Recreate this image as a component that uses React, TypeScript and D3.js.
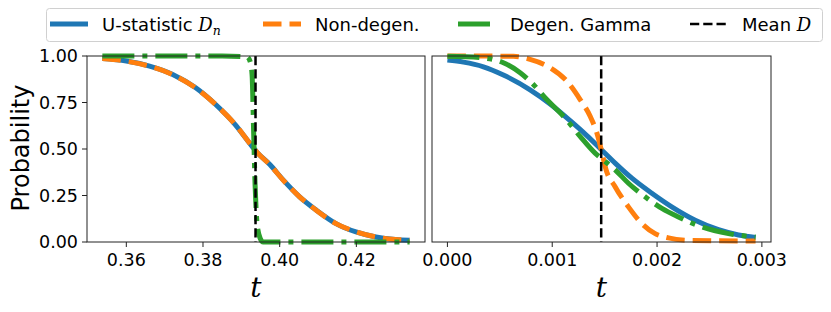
import { useRef, useEffect } from 'react'
import * as d3 from 'd3'

// left panel (t values ~0.354..0.434)
const leftT = [0.35375, 0.36, 0.36605, 0.3721, 0.3781, 0.3833, 0.3884, 0.3928, 0.3941, 0.3975, 0.4009, 0.4052, 0.4096, 0.4147, 0.4199, 0.4251, 0.4302, 0.4339]
const leftU = [0.986, 0.973, 0.946, 0.901, 0.829, 0.739, 0.631, 0.514, 0.482, 0.415, 0.334, 0.243, 0.171, 0.099, 0.054, 0.027, 0.013, 0.009]
const leftNonDegen = [0.986, 0.972, 0.945, 0.9, 0.828, 0.739, 0.632, 0.515, 0.482, 0.414, 0.333, 0.243, 0.17, 0.099, 0.055, 0.027, 0.014, 0.01]
const leftGammaT = [0.35375, 0.37, 0.385, 0.3915, 0.3923, 0.3928, 0.3932, 0.3936, 0.3941, 0.3949, 0.3957, 0.41, 0.4339]
const leftGamma = [1.0, 1.0, 1.0, 0.995, 0.97, 0.9, 0.6, 0.3, 0.1, 0.02, 0.0, 0.0, 0.0]
const leftMean = 0.3937

// right panel (t values 0..0.00294)
const rightT = [0.0, 0.000153, 0.000344, 0.000534, 0.000789, 0.00098, 0.001171, 0.00133, 0.001457, 0.0016, 0.00176, 0.00195, 0.00214, 0.002364, 0.002586, 0.002777, 0.00294]
const rightU = [0.978, 0.967, 0.942, 0.898, 0.818, 0.742, 0.652, 0.572, 0.503, 0.424, 0.343, 0.262, 0.189, 0.117, 0.066, 0.038, 0.024]
const rightNdT = [0.0, 0.0003, 0.00063, 0.000789, 0.00098, 0.001139, 0.001266, 0.001362, 0.001426, 0.001483, 0.001505, 0.0016, 0.001727, 0.001855, 0.001982, 0.002109, 0.0023, 0.00294]
const rightNonDegen = [1.0, 1.0, 0.998, 0.982, 0.937, 0.865, 0.766, 0.676, 0.586, 0.459, 0.405, 0.297, 0.189, 0.099, 0.045, 0.022, 0.009, 0.005]
const rightGT = [0.0, 0.000312, 0.000534, 0.000694, 0.00082, 0.000948, 0.001107, 0.001266, 0.001409, 0.001489, 0.0016, 0.001727, 0.001886, 0.002046, 0.002204, 0.002427, 0.002681, 0.00294]
const rightGamma = [0.998, 0.991, 0.964, 0.91, 0.847, 0.766, 0.676, 0.568, 0.478, 0.44, 0.388, 0.316, 0.243, 0.181, 0.135, 0.081, 0.045, 0.027]
const rightMean = 0.001467

const yTicks = [0, 0.25, 0.5, 0.75, 1.0]
const leftTicks = [0.36, 0.38, 0.4, 0.42]
const rightTicks = [0.0, 0.001, 0.002, 0.003]

const BLUE = '#1f77b4'
const ORANGE = '#ff7f0e'
const GREEN = '#2ca02c'
const FONT = 'DejaVu Sans, sans-serif'

const W = 831
const H = 312
const TOP = 56
const BOTTOM = 242

function pad(ext: [number, number]): [number, number] {
  const m = (ext[1] - ext[0]) * 0.05
  return [ext[0] - m, ext[1] + m]
}

export default function App() {
  const ref = useRef<SVGSVGElement>(null)

  useEffect(() => {
    if (!ref.current) return
    const svg = d3.select(ref.current)
    svg.selectAll('*').remove()

    const y = d3.scaleLinear().domain([0, 1]).range([BOTTOM, TOP])

    const panels = [
      {
        x0: 87, x1: 425,
        domain: pad(d3.extent(leftT) as [number, number]),
        ticks: leftTicks, fmt: d3.format('.2f'),
        series: [
          { t: leftT, v: leftU, color: BLUE, dash: null },
          { t: leftT, v: leftNonDegen, color: ORANGE, dash: '18.5,8' },
          { t: leftGammaT, v: leftGamma, color: GREEN, dash: '32,8,5,8' },
        ],
        mean: leftMean, yLabels: true,
      },
      {
        x0: 432, x1: 771,
        domain: pad(d3.extent(rightT) as [number, number]),
        ticks: rightTicks, fmt: d3.format('.3f'),
        series: [
          { t: rightT, v: rightU, color: BLUE, dash: null },
          { t: rightNdT, v: rightNonDegen, color: ORANGE, dash: '18.5,8' },
          { t: rightGT, v: rightGamma, color: GREEN, dash: '32,8,5,8' },
        ],
        mean: rightMean, yLabels: false,
      },
    ]

    panels.forEach((p) => {
      const x = d3.scaleLinear().domain(p.domain).range([p.x0, p.x1])
      const g = svg.append('g')

      p.series.forEach((s) => {
        const line = d3
          .line<number>()
          .x((_, i) => x(s.t[i]))
          .y((d) => y(d))
          .curve(d3.curveMonotoneX)
        g.append('path')
          .attr('d', line(s.v) as string)
          .attr('fill', 'none')
          .attr('stroke', s.color)
          .attr('stroke-width', 5)
          .attr('stroke-dasharray', s.dash)
      })

      g.append('line')
        .attr('x1', x(p.mean)).attr('x2', x(p.mean))
        .attr('y1', TOP).attr('y2', BOTTOM)
        .attr('stroke', 'black')
        .attr('stroke-width', 2.5)
        .attr('stroke-dasharray', '9.25,4')

      g.append('rect')
        .attr('x', p.x0).attr('y', TOP)
        .attr('width', p.x1 - p.x0).attr('height', BOTTOM - TOP)
        .attr('fill', 'none').attr('stroke', '#222').attr('stroke-width', 1)

      p.ticks.forEach((t) => {
        g.append('line')
          .attr('x1', x(t)).attr('x2', x(t))
          .attr('y1', BOTTOM).attr('y2', BOTTOM + 5)
          .attr('stroke', '#222')
        g.append('text')
          .attr('x', x(t)).attr('y', 266)
          .attr('text-anchor', 'middle')
          .attr('font-family', FONT).attr('font-size', 17.5)
          .text(p.fmt(t))
      })

      if (p.yLabels) {
        yTicks.forEach((t) => {
          g.append('line')
            .attr('x1', p.x0 - 5).attr('x2', p.x0)
            .attr('y1', y(t)).attr('y2', y(t))
            .attr('stroke', '#222')
          g.append('text')
            .attr('x', p.x0 - 9).attr('y', y(t) + 6.4)
            .attr('text-anchor', 'end')
            .attr('font-family', FONT).attr('font-size', 17.5)
            .text(d3.format('.2f')(t))
        })
      }

      g.append('text')
        .attr('x', (p.x0 + p.x1) / 2).attr('y', 297)
        .attr('text-anchor', 'middle')
        .attr('font-family', 'DejaVu Serif, serif')
        .attr('font-style', 'italic')
        .attr('font-size', 28)
        .text('t')
    })

    svg.append('text')
      .attr('transform', 'translate(29,148) rotate(-90)')
      .attr('text-anchor', 'middle')
      .attr('font-family', FONT).attr('font-size', 24)
      .text('Probability')

    // legend
    const lg = svg.append('g')
    lg.append('rect')
      .attr('x', 46.5).attr('y', 8.5).attr('width', 776).attr('height', 33)
      .attr('rx', 3).attr('fill', 'white').attr('stroke', '#d0d0d0')
    const items = [
      { x: 50, color: BLUE, dash: null, w: 5, label: 'U-statistic ', math: 'D', sub: 'n' },
      { x: 263, color: ORANGE, dash: '18.5,8', w: 5, label: 'Non-degen.', math: '', sub: '' },
      { x: 458, color: GREEN, dash: '32,8,5,8', w: 5, label: 'Degen. Gamma', math: '', sub: '' },
      { x: 690, color: 'black', dash: '9.25,4', w: 2.5, label: 'Mean ', math: 'D', sub: '' },
    ]
    items.forEach((it) => {
      lg.append('line')
        .attr('x1', it.x).attr('x2', it.x + 38)
        .attr('y1', 24).attr('y2', 24)
        .attr('stroke', it.color).attr('stroke-width', it.w)
        .attr('stroke-dasharray', it.dash)
      const tx = lg.append('text')
        .attr('x', it.x + 52).attr('y', 30.5)
        .attr('font-family', FONT).attr('font-size', 18)
      tx.append('tspan').text(it.label)
      if (it.math) {
        tx.append('tspan')
          .attr('font-family', 'DejaVu Serif, serif')
          .attr('font-style', 'italic')
          .text(it.math)
      }
      if (it.sub) {
        tx.append('tspan')
          .attr('font-family', 'DejaVu Serif, serif')
          .attr('font-style', 'italic')
          .attr('font-size', 12.5)
          .attr('dy', 4)
          .text(it.sub)
      }
    })
  }, [])

  return (
    <svg
      ref={ref}
      width={W}
      height={H}
      style={{ position: 'absolute', left: 0, top: 0, background: 'white' }}
    />
  )
}
